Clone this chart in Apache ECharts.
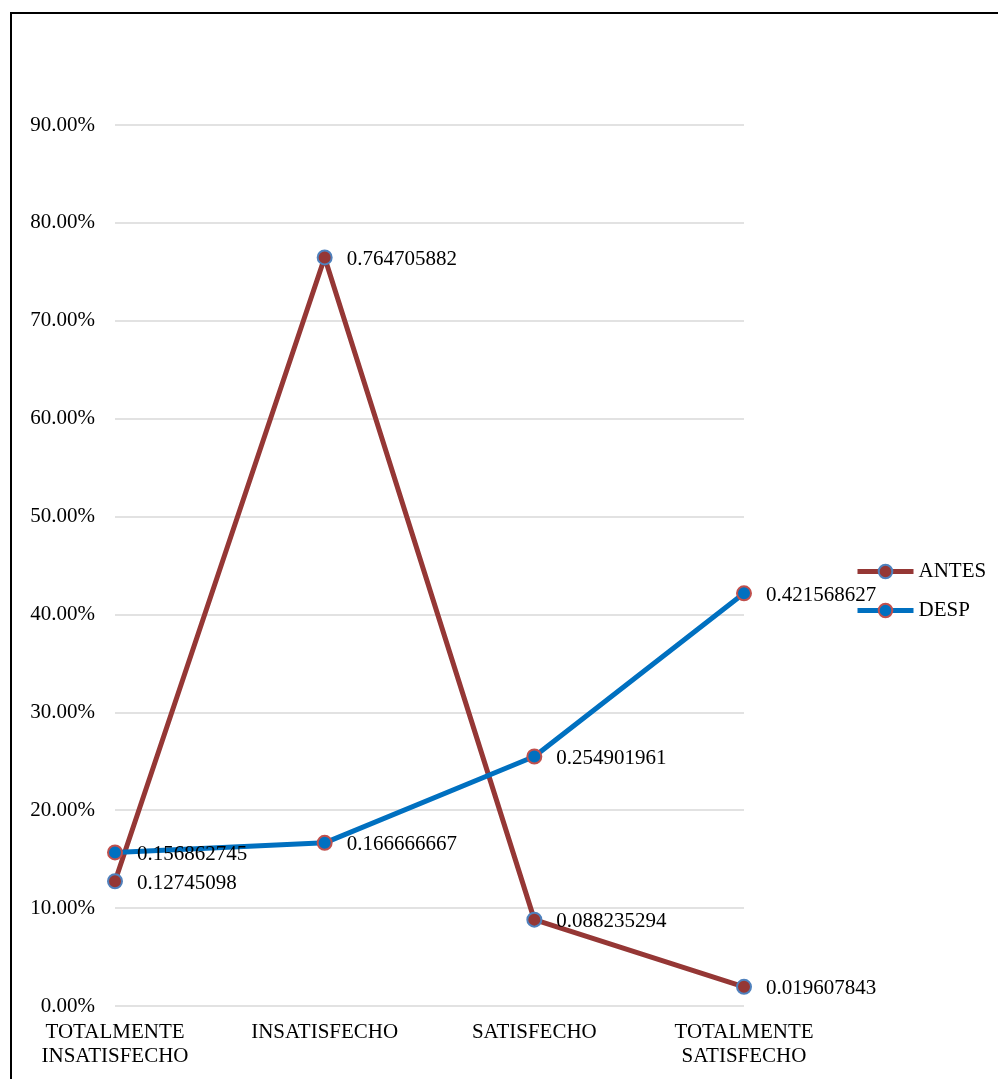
<!DOCTYPE html>
<html>
<head>
<meta charset="utf-8">
<script src="https://cdn.jsdelivr.net/npm/echarts@6/dist/echarts.min.js"></script>
<style>
  html, body { margin: 0; padding: 0; background: #fff; overflow: hidden; }
  .frame {
    position: absolute;
    left: 10px;
    top: 12px;
    width: 1100px;
    height: 1200px;
    border: 2px solid #000;
    box-sizing: border-box;
  }
  #chart { position: absolute; left: 0; top: 0; width: 998px; height: 1079px; }
</style>
</head>
<body>
<div class="frame"></div>
<div id="chart"></div>
<script>
var categories = ['TOTALMENTE\nINSATISFECHO', 'INSATISFECHO', 'SATISFECHO', 'TOTALMENTE\nSATISFECHO']
var antes = [0.12745098, 0.764705882, 0.088235294, 0.019607843]
var desp = [0.156862745, 0.166666667, 0.254901961, 0.421568627]
var seriesNames = ['ANTES', 'DESP']

var font = 'Liberation Serif, Times New Roman, serif'
var myChart = echarts.init(document.getElementById('chart'))

function lineSeries(name, data, lineColor, borderColor) {
  return {
    name: name,
    type: 'line',
    data: data,
    symbol: 'circle',
    symbolSize: 14,
    showAllSymbol: true,
    lineStyle: { color: lineColor, width: 5 },
    itemStyle: { color: lineColor, borderColor: borderColor, borderWidth: 2 },
    label: {
      show: true,
      position: 'right',
      distance: 14,
      offset: [0, 2],
      color: '#000',
      fontFamily: font,
      fontSize: 21,
      formatter: function (p) { return String(p.value) }
    },
    animation: false
  }
}

var option = {
  textStyle: { fontFamily: font },
  grid: { left: 115, right: 254, top: 125, bottom: 73, containLabel: false },
  legend: {
    orient: 'vertical',
    left: 850,
    top: 556,
    itemWidth: 56,
    itemHeight: 17,
    itemGap: 18,
    lineStyle: { width: 5 },
    textStyle: { color: '#000', fontFamily: font, fontSize: 21 },
    data: seriesNames
  },
  xAxis: {
    type: 'category',
    boundaryGap: false,
    data: categories,
    axisLine: { show: false },
    axisTick: { show: false },
    axisLabel: {
      color: '#000',
      fontFamily: font,
      fontSize: 21,
      lineHeight: 24,
      margin: 14,
      interval: 0
    }
  },
  yAxis: {
    type: 'value',
    min: 0,
    max: 0.9,
    interval: 0.1,
    axisLine: { show: false },
    axisTick: { show: false },
    splitLine: { lineStyle: { color: '#d9d9d9', width: 1.5 } },
    axisLabel: {
      color: '#000',
      fontFamily: font,
      fontSize: 21,
      margin: 20,
      formatter: function (v) { return (v * 100).toFixed(2) + '%' }
    }
  },
  series: [
    lineSeries(seriesNames[0], antes, '#953735', '#4f81bd'),
    lineSeries(seriesNames[1], desp, '#0070c0', '#c0504d')
  ]
}
myChart.setOption(option)
</script>
</body>
</html>
